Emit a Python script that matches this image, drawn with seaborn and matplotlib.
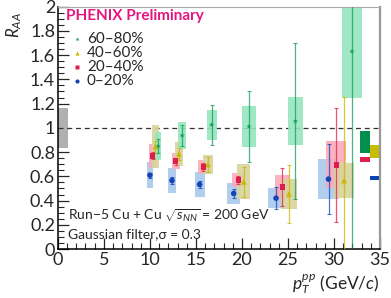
import numpy as np
import pandas as pd
import seaborn as sns
import matplotlib.pyplot as plt
from matplotlib.ticker import MultipleLocator

## data
cent = ['60–80%', '40–60%', '20–40%', '0–20%']

pt_c0 = [10.0, 12.4, 15.4, 19.1, 23.7, 29.4]
raa_c0 = [0.61, 0.566, 0.533, 0.459, 0.42, 0.577]
sys_c0 = [0.11, 0.105, 0.10, 0.083, 0.085, 0.165]
stat_c0 = [0.02, 0.025, 0.03, 0.04, 0.09, 0.29]

pt_c20 = [10.3, 12.8, 15.8, 19.6, 24.4, 30.25]
raa_c20 = [0.77, 0.725, 0.678, 0.57, 0.512, 0.695]
sys_c20 = [0.10, 0.065, 0.057, 0.055, 0.10, 0.195]
stat_c20 = [0.03, 0.03, 0.03, 0.03, 0.16, 0.47]

pt_c40 = [10.6, 13.15, 16.3, 20.2, 25.1, 31.1]
raa_c40 = [0.845, 0.785, 0.698, 0.555, 0.455, 0.565]
sys_c40 = [0.175, 0.10, 0.082, 0.145, 0.125, 0.145]
stat_c40 = [0.05, 0.05, 0.06, 0.125, 0.24, 0.69]

pt_c60 = [10.9, 13.5, 16.7, 20.76, 25.8, 31.95]
raa_c60 = [0.85, 0.937, 1.025, 1.01, 1.055, 1.63]
sys_c60 = [0.115, 0.11, 0.125, 0.167, 0.2, 0.38]
stat_c60 = [0.06, 0.09, 0.165, 0.29, 0.645, 1.7]

box_w = [0.7, 0.85, 1.1, 1.45, 1.7, 2.2]

# global normalisation boxes on the right (lo, hi)
norm_x = [32.8, 33.9, 32.8, 33.9]
norm_lo = [0.79, 0.75, 0.717, 0.566]
norm_hi = [0.97, 0.86, 0.76, 0.60]
# p+p normalisation box at 1
pp_lo, pp_hi = 0.835, 1.165

marker_col = ['#119a5c', '#c8b800', '#e01e4e', '#1444b4']
box_col = ['#96e6bd', '#d8d49c', '#fbaabb', '#a9c9ee']
norm_col = ['#00904c', '#c8bc00', '#e01e4e', '#0a44b0']
marks = ['*', '^', 's', 'o']

series = {
    '60–80%': (pt_c60, raa_c60, sys_c60, stat_c60),
    '40–60%': (pt_c40, raa_c40, sys_c40, stat_c40),
    '20–40%': (pt_c20, raa_c20, sys_c20, stat_c20),
    '0–20%': (pt_c0, raa_c0, sys_c0, stat_c0),
}

rows = []
for c in cent:
    x, y, s, e = series[c]
    for i in range(len(x)):
        rows.append({'pt': x[i], 'raa': y[i], 'sys': s[i], 'stat': e[i], 'w': box_w[i], 'cent': c})
df = pd.DataFrame(rows)

sns.set_style('ticks')
plt.rcParams['font.family'] = ['Lato', 'DejaVu Sans']
plt.rcParams['mathtext.fontset'] = 'custom'
plt.rcParams['mathtext.rm'] = 'Lato'
plt.rcParams['mathtext.it'] = 'Lato:italic'

fig = plt.figure(figsize=(3.91, 2.98), dpi=100)
ax = fig.add_axes([0.148, 0.164, 0.824, 0.814])

# draw order: blue first so the others sit on top, like the reference
order = ['0–20%', '20–40%', '40–60%', '60–80%']
for c in order:
    k = cent.index(c)
    d = df[df['cent'] == c]
    ax.bar(d['pt'], 2 * d['sys'], bottom=d['raa'] - d['sys'], width=d['w'],
           color=box_col[k], alpha=0.9, linewidth=0, zorder=2)
    ax.errorbar(d['pt'], d['raa'], yerr=d['stat'], fmt='none', ecolor=marker_col[k],
                elinewidth=0.9, capsize=1.2, capthick=0.8, alpha=0.75, zorder=3)

sns.scatterplot(data=df, x='pt', y='raa', hue='cent', style='cent', hue_order=cent,
                style_order=cent, palette=marker_col, markers=marks, s=16,
                edgecolor='none', legend=False, ax=ax, zorder=4)

for k in range(4):
    ax.bar(norm_x[k], norm_hi[k] - norm_lo[k], bottom=norm_lo[k], width=1.1,
           align='edge', color=norm_col[k], linewidth=0, zorder=2)
ax.bar(0, pp_hi - pp_lo, bottom=pp_lo, width=1.1, align='edge', color='#b0b0b0',
       linewidth=0, zorder=1)

ax.axhline(1, color='#333333', lw=0.9, ls=(0, (4, 3)), zorder=1)

ax.set_xlim(0, 35)
ax.set_ylim(0, 2)
ax.xaxis.set_major_locator(MultipleLocator(5))
ax.xaxis.set_minor_locator(MultipleLocator(1))
ax.yaxis.set_major_locator(MultipleLocator(0.2))
ax.yaxis.set_minor_locator(MultipleLocator(0.05))
ax.set_yticks(np.arange(0, 2.01, 0.2))
ax.set_yticklabels(['0', '0.2', '0.4', '0.6', '0.8', '1', '1.2', '1.4', '1.6', '1.8', '2'])
ax.tick_params(which='both', direction='in', labelsize=13, pad=2, top=False, right=False)
ax.tick_params(which='major', length=8, width=0.9)
ax.tick_params(which='minor', length=4, width=0.8)
for s in ['left', 'bottom']:
    ax.spines[s].set_color('black')
    ax.spines[s].set_linewidth(1.1)
ax.spines['top'].set_color('#aaaaaa')
ax.spines['right'].set_color('#999999')
ax.spines['right'].set_linewidth(1.6)
ax.set_xlabel('')
ax.set_ylabel('')

fig.text(0.035, 0.915, r'$R_{AA}$', rotation=90, fontsize=12, ha='center', va='center')
fig.text(0.972, 0.045, r'$p_T^{pp}$ (GeV/$c$)', fontsize=12.5, ha='right', va='center')

ax.text(0.025, 0.96, 'PHENIX Preliminary', transform=ax.transAxes, color='#e4157f',
        fontsize=11, fontweight='bold', va='center')
leg_y = [0.865, 0.808, 0.75, 0.693]
for k in range(4):
    ax.plot([0.058], [leg_y[k]], marker=marks[k], color=marker_col[k], ms=3,
            mec='none', transform=ax.transAxes, ls='none')
    ax.text(0.09, leg_y[k], cent[k], transform=ax.transAxes, fontsize=11, va='center')

ax.text(0.03, 0.135, r'Run$-$5 Cu + Cu $\sqrt{s_{NN}}$ = 200 GeV', transform=ax.transAxes,
        fontsize=10, va='center')
ax.text(0.03, 0.063, 'Gaussian filter,σ = 0.3', transform=ax.transAxes, fontsize=10, va='center')

fig.savefig('out.png', dpi=100)
